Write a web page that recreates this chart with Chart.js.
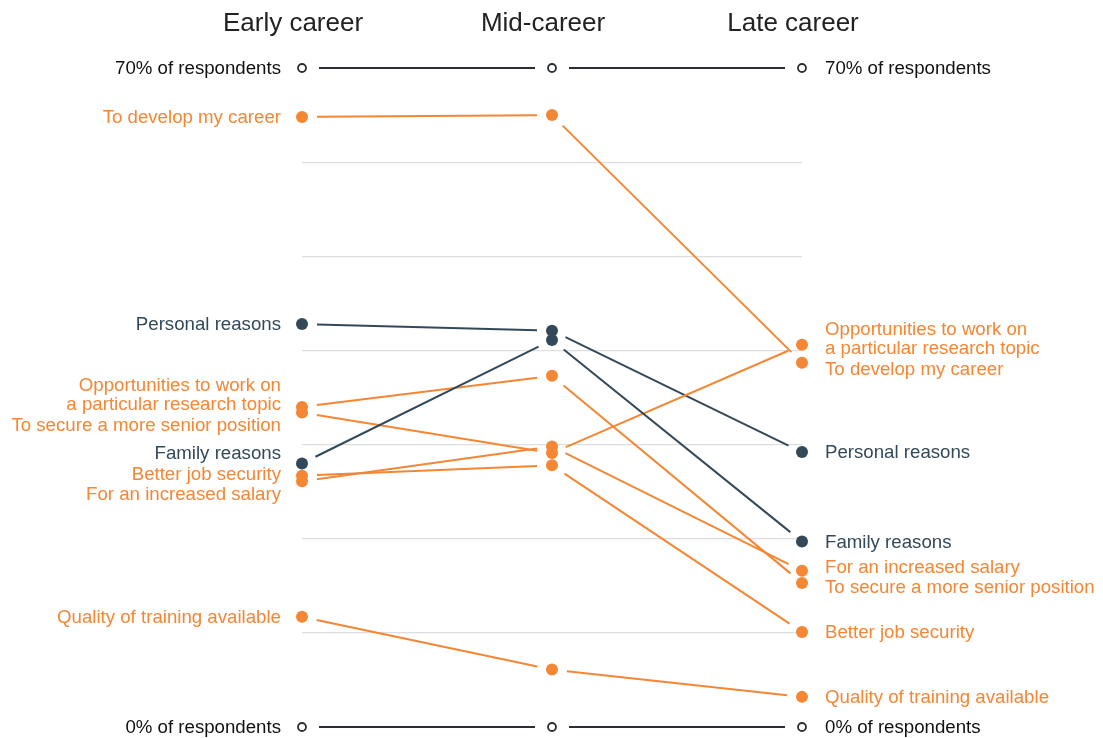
<!DOCTYPE html>
<html>
<head>
<meta charset="utf-8">
<script src="https://cdn.jsdelivr.net/npm/chart.js@4.4.1/dist/chart.umd.min.js"></script>
<style>
    html, body { margin: 0; padding: 0; background: #ffffff; }
</style>
</head>
<body>
<canvas id="slopeChart" width="1103" height="738"></canvas>
<script>
// Career stages (columns)
const stages = ["Early career", "Mid-career", "Late career"];

// Reasons, in the order they are listed
const reasons = [
    "To develop my career",
    "Personal reasons",
    "Opportunities to work on\na particular research topic",
    "To secure a more senior position",
    "Family reasons",
    "Better job security",
    "For an increased salary",
    "Quality of training available"
];

// % of respondents at each stage (early, mid, late)
const developCareer = [64.8, 65.0, 38.7];
const personalReasons = [42.8, 42.1, 29.2];
const researchTopic = [33.4, 29.1, 40.6];
const seniorPosition = [34.0, 37.3, 15.3];
const familyReasons = [28.0, 41.1, 19.7];
const jobSecurity = [26.7, 27.8, 10.1];
const increasedSalary = [26.1, 29.8, 16.6];
const trainingQuality = [11.7, 6.1, 3.2];

const seriesValues = [developCareer, personalReasons, researchTopic, seniorPosition,
    familyReasons, jobSecurity, increasedSalary, trainingQuality];

// Axis range and the reference rows at top and bottom
const axisMin = 0;
const axisMax = 70;
const axisStep = 10;
const topRowLabel = "70% of respondents";
const bottomRowLabel = "0% of respondents";

const orange = "#f58634";
const dark = "#33495a";
const darkReasons = ["Personal reasons", "Family reasons"];
const labelFont = '18.67px "Liberation Sans", Arial, sans-serif';
const titleFont = '26px "Liberation Sans", Arial, sans-serif';

const datasets = reasons.map((name, i) => {
    const color = darkReasons.includes(name) ? dark : orange;
    return {
        label: name,
        data: seriesValues[i],
        borderColor: color,
        pointBackgroundColor: color,
        pointBorderWidth: 0,
        pointRadius: 6,
        pointHoverRadius: 6,
        showLine: false,
        isReason: true
    };
});

// top and bottom reference rows (open circles)
[axisMax, axisMin].forEach(v => {
    datasets.push({
        label: v === axisMax ? topRowLabel : bottomRowLabel,
        data: stages.map(() => v),
        borderColor: "#2b2f33",
        pointBackgroundColor: "#ffffff",
        pointBorderColor: "#2b2f33",
        pointBorderWidth: 1.8,
        pointRadius: 4,
        pointHoverRadius: 4,
        showLine: false,
        isReason: false
    });
});

// Draws the connecting lines, stopping short of each dot
const gappedLines = {
    id: "gappedLines",
    beforeDatasetsDraw(chart) {
        const ctx = chart.ctx;
        chart.data.datasets.forEach((ds, di) => {
            const pts = chart.getDatasetMeta(di).data;
            const gap = ds.isReason ? 15 : 17;
            ctx.save();
            ctx.strokeStyle = ds.borderColor;
            ctx.lineWidth = 2;
            for (let i = 0; i < pts.length - 1; i++) {
                const a = pts[i], b = pts[i + 1];
                const dx = b.x - a.x, dy = b.y - a.y;
                const len = Math.sqrt(dx * dx + dy * dy);
                const ux = dx / len, uy = dy / len;
                ctx.beginPath();
                ctx.moveTo(a.x + ux * gap, a.y + uy * gap);
                ctx.lineTo(b.x - ux * gap, b.y - uy * gap);
                ctx.stroke();
            }
            ctx.restore();
        });
    }
};

// Pushes overlapping labels apart around their dots
function spreadLabels(items, lineH, pad) {
    items.sort((a, b) => a.y - b.y);
    // near-equal values keep the listed order
    for (let i = 1; i < items.length; i++) {
        const a = items[i - 1], b = items[i];
        if (Math.abs(a.value - b.value) < 1 && a.index > b.index) {
            items[i - 1] = b;
            items[i] = a;
        }
    }
    items.forEach(it => {
        it.h = it.lines.length * lineH + pad;
        it.pos = it.y;
    });
    for (let k = 0; k < 200; k++) {
        for (let i = 1; i < items.length; i++) {
            const a = items[i - 1], b = items[i];
            const overlap = (a.pos + a.h / 2) - (b.pos - b.h / 2);
            if (overlap > 0) {
                a.pos -= overlap / 2;
                b.pos += overlap / 2;
            }
        }
    }
    return items;
}

const textLabels = {
    id: "textLabels",
    afterDraw(chart) {
        const ctx = chart.ctx;
        const lineH = 19;
        const nudge = 1; // baseline "middle" sits a touch high
        ctx.save();
        ctx.textBaseline = "middle";

        // column titles
        ctx.font = titleFont;
        ctx.fillStyle = "#222222";
        ctx.textAlign = "center";
        const firstMeta = chart.getDatasetMeta(0).data;
        stages.forEach((s, i) => {
            ctx.fillText(s, firstMeta[i].x - 9, 24);
        });

        ctx.font = labelFont;
        [0, 2].forEach(col => {
            const left = col === 0;
            const items = [];
            chart.data.datasets.forEach((ds, di) => {
                const pt = chart.getDatasetMeta(di).data[col];
                if (!ds.isReason) {
                    ctx.fillStyle = "#111111";
                    ctx.textAlign = left ? "right" : "left";
                    ctx.fillText(ds.label, left ? pt.x - 21 : pt.x + 23, pt.y + nudge);
                    return;
                }
                items.push({
                    lines: ds.label.split("\n"),
                    y: pt.y,
                    x: pt.x,
                    value: ds.data[col],
                    index: di,
                    color: ds.borderColor
                });
            });
            spreadLabels(items, lineH, 1.5).forEach(it => {
                ctx.fillStyle = it.color;
                ctx.textAlign = left ? "right" : "left";
                const startY = it.pos - (it.lines.length - 1) * lineH / 2 + nudge;
                it.lines.forEach((line, li) => {
                    ctx.fillText(line, left ? it.x - 21 : it.x + 23, startY + li * lineH);
                });
            });
        });
        ctx.restore();
    }
};

const ctx = document.getElementById("slopeChart").getContext("2d");
const chart = new Chart(ctx, {
    type: "line",
    data: {
        labels: stages,
        datasets: datasets
    },
    options: {
        responsive: false,
        animation: false,
        clip: false,
        layout: {
            padding: { left: 302, right: 301, top: 68, bottom: 11 }
        },
        plugins: {
            legend: { display: false },
            tooltip: { enabled: false }
        },
        events: [],
        scales: {
            x: {
                display: false,
                offset: false
            },
            y: {
                min: axisMin,
                max: axisMax,
                ticks: { display: false, stepSize: axisStep },
                border: { display: false },
                grid: {
                    drawTicks: false,
                    lineWidth: 1.2,
                    color: c => (c.tick.value === axisMin || c.tick.value === axisMax) ? "rgba(0,0,0,0)" : "#dedede"
                },
                afterFit: s => { s.width = 0; }
            }
        }
    },
    plugins: [gappedLines, textLabels]
});
</script>
</body>
</html>
